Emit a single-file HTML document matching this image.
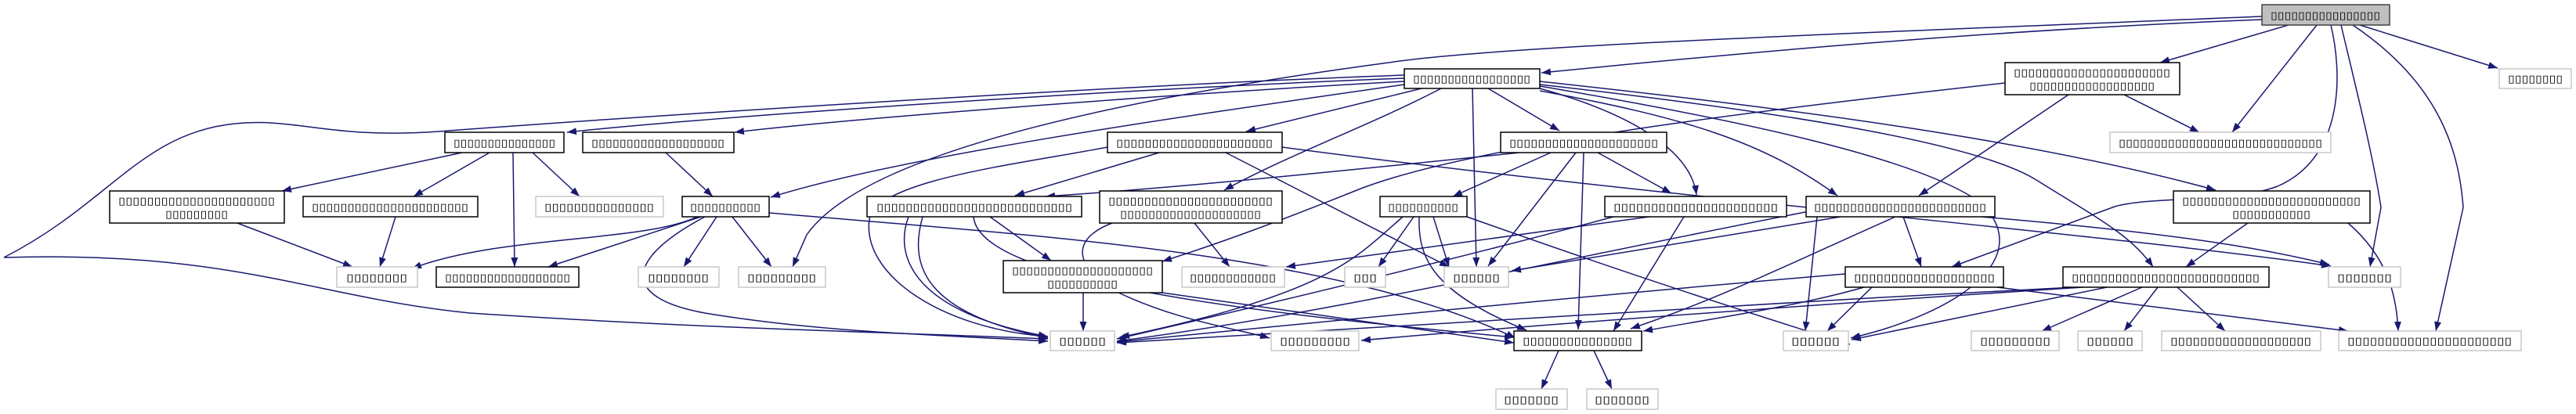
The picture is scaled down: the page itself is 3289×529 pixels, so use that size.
<!DOCTYPE html>
<html><head><meta charset="utf-8"><style>
html,body{margin:0;padding:0;background:#fff;}
svg{display:block;}
text{font-family:"DejaVu Sans","Liberation Sans",sans-serif;font-size:13px;fill:#000;}
</style></head><body>
<svg width="3289" height="529" viewBox="0 0 3289 529" xmlns="http://www.w3.org/2000/svg">
<defs>
<marker id="a" markerUnits="userSpaceOnUse" markerWidth="14" markerHeight="10" refX="12" refY="4.5" orient="auto">
<path d="M0,0 L12,4.5 L0,9 z" fill="#191970"/>
</marker>
</defs>
<g fill="none" stroke="#191970" stroke-width="1.5" marker-end="url(#a)">
<path d="M2888,25 C2500,40 2150,75 1968,93"/>
<path d="M2922,32 L2758,80"/>
<path d="M2958,32 L2850,169"/>
<path d="M2976,32 C2990,90 2995,200 2908,238 C2850,260 2750,250 2700,264 L2492,341"/>
<path d="M2989,32 C3010,120 3030,200 3040,265 L3026,341"/>
<path d="M3004,32 C3120,110 3140,200 3145,265 L3110,423"/>
<path d="M3013,32 L3189,87"/>
<path d="M2888,21 C2300,45 1900,60 1773,80 C1400,130 1100,200 1030,300 L1012,341"/>
<path d="M1793,100 C1400,115 900,150 724,169"/>
<path d="M1793,104 C1500,120 1100,150 938,169"/>
<path d="M1793,96 C1400,110 800,150 560,168 C420,178 380,150 300,158 C180,170 140,260 5,329 C300,320 400,380 600,400 C900,420 1150,425 1338,433"/>
<path d="M1815,113 L1591,168"/>
<path d="M1900,113 L1991,167"/>
<path d="M1840,113 C1750,160 1640,200 1563,243"/>
<path d="M1880,113 L1885,341"/>
<path d="M1793,108 C1500,150 1150,200 984,252"/>
<path d="M1966,113 C2100,150 2160,200 2166,249"/>
<path d="M1966,104 C2300,140 2600,180 2829,243"/>
<path d="M1966,108 C2250,140 2520,180 2600,230 C2680,280 2720,300 2749,341"/>
<path d="M1966,110 C2200,150 2450,200 2530,260 C2600,330 2500,400 2363,432"/>
<path d="M1966,116 C2150,150 2250,180 2346,250"/>
<path d="M2712,121 L2808,169"/>
<path d="M2641,121 L2450,250"/>
<path d="M2560,106 C2300,135 1900,180 1740,240 C1640,280 1560,310 1484,334"/>
<path d="M590,195 L360,244"/>
<path d="M625,195 L528,251"/>
<path d="M655,195 L657,341"/>
<path d="M680,195 L740,251"/>
<path d="M850,195 L910,251"/>
<path d="M303,285 L450,341"/>
<path d="M505,277 L485,341"/>
<path d="M890,277 C820,310 640,300 526,343"/>
<path d="M895,277 L700,341"/>
<path d="M900,277 C800,330 790,380 900,400 C1050,425 1200,428 1338,436"/>
<path d="M915,277 L873,341"/>
<path d="M935,277 L985,341"/>
<path d="M982,272 C1300,300 1700,320 1935,432"/>
<path d="M1480,195 L1296,250"/>
<path d="M1565,195 L1850,341"/>
<path d="M1414,188 C1300,210 1120,230 1110,280 C1100,350 1200,420 1338,430"/>
<path d="M1637,188 C2100,250 2700,300 2976,340"/>
<path d="M1940,195 C1700,220 1500,240 1335,251"/>
<path d="M1980,195 L1855,251"/>
<path d="M2022,195 L2015,421"/>
<path d="M2040,195 L2134,247"/>
<path d="M2012,195 L1900,340"/>
<path d="M1160,277 C1140,330 1170,400 1338,430"/>
<path d="M1178,277 C1160,340 1180,400 1338,432"/>
<path d="M1264,277 L1342,333"/>
<path d="M1243,277 C1250,360 1600,400 1933,431"/>
<path d="M1525,285 L1570,341"/>
<path d="M1420,285 C1380,300 1360,330 1420,370 C1500,410 1580,420 1621,432"/>
<path d="M1805,277 L1760,341"/>
<path d="M1830,277 L1850,341"/>
<path d="M1812,277 C1810,330 1830,374 1949,422"/>
<path d="M1791,277 C1730,330 1700,374 1430,431"/>
<path d="M1873,277 C2050,340 2200,390 2362,440"/>
<path d="M1383,374 L1383,423"/>
<path d="M1484,374 L1933,438"/>
<path d="M1990,448 L1968,497"/>
<path d="M2035,448 L2058,497"/>
<path d="M2060,277 C1900,320 1700,370 1426,433"/>
<path d="M2150,277 L2060,423"/>
<path d="M2200,264 C2000,290 1800,320 1642,341"/>
<path d="M2430,277 L2453,341"/>
<path d="M2320,277 L2305,423"/>
<path d="M2350,277 L1930,346"/>
<path d="M2420,277 C2300,330 2200,380 2082,420"/>
<path d="M2530,277 C2800,300 2900,320 2974,338"/>
<path d="M2310,270 C2000,330 1700,400 1426,436"/>
<path d="M2356,350 C2000,380 1600,420 1426,437"/>
<path d="M2380,367 C2300,390 2200,405 2098,423"/>
<path d="M2550,367 L2998,423"/>
<path d="M2390,367 L2333,423"/>
<path d="M2690,367 L2364,434"/>
<path d="M2735,367 L2607,423"/>
<path d="M2755,367 L2712,423"/>
<path d="M2780,367 L2841,423"/>
<path d="M2660,367 C2300,390 1900,420 1738,435"/>
<path d="M2648,367 C2200,390 1700,420 1426,438"/>
<path d="M2870,285 L2791,341"/>
<path d="M2998,285 C3050,330 3060,380 3062,423"/>
</g>
<g stroke-width="1.5">
<rect x="2888" y="6" width="163" height="26" fill="#bfbfbf" stroke="#404040"/>
<g fill="#fff" stroke="#000">
<rect x="1793" y="88" width="173" height="25"/>
<rect x="2560" y="80" width="223" height="41"/>
<rect x="568" y="169" width="152" height="26"/>
<rect x="744" y="169" width="193" height="26"/>
<rect x="1414" y="169" width="223" height="26"/>
<rect x="1916" y="169" width="212" height="26"/>
<rect x="140" y="244" width="223" height="41"/>
<rect x="387" y="251" width="223" height="26"/>
<rect x="871" y="251" width="111" height="26"/>
<rect x="1107" y="251" width="274" height="26"/>
<rect x="1404" y="244" width="233" height="41"/>
<rect x="1762" y="251" width="111" height="26"/>
<rect x="2049" y="251" width="232" height="26"/>
<rect x="2306" y="251" width="241" height="26"/>
<rect x="2775" y="244" width="251" height="41"/>
<rect x="557" y="341" width="182" height="26"/>
<rect x="1281" y="333" width="203" height="41"/>
<rect x="2356" y="341" width="202" height="26"/>
<rect x="2634" y="341" width="263" height="26"/>
<rect x="1933" y="423" width="163" height="25"/>
</g>
<g fill="#fff" stroke="#c8c8c8">
<rect x="3191" y="88" width="92" height="25"/>
<rect x="2694" y="169" width="282" height="26"/>
<rect x="684" y="251" width="163" height="26"/>
<rect x="430" y="341" width="103" height="26"/>
<rect x="815" y="341" width="103" height="26"/>
<rect x="943" y="341" width="111" height="26"/>
<rect x="1509" y="341" width="131" height="26"/>
<rect x="1717" y="341" width="52" height="26"/>
<rect x="1844" y="341" width="82" height="26"/>
<rect x="2973" y="341" width="92" height="26"/>
<rect x="1341" y="423" width="82" height="25"/>
<rect x="1623" y="423" width="112" height="25"/>
<rect x="2277" y="423" width="83" height="25"/>
<rect x="2517" y="423" width="112" height="25"/>
<rect x="2653" y="423" width="82" height="25"/>
<rect x="2760" y="423" width="203" height="25"/>
<rect x="2986" y="423" width="233" height="25"/>
<rect x="1910" y="497" width="91" height="26"/>
<rect x="2026" y="497" width="91" height="26"/>
</g>
</g>
<g text-anchor="middle">
<text x="2969" y="24" textLength="140" lengthAdjust="spacingAndGlyphs">▯▯▯▯▯▯▯▯▯▯▯▯▯▯▯▯</text>
<text x="1879" y="105" textLength="150" lengthAdjust="spacingAndGlyphs">▯▯▯▯▯▯▯▯▯▯▯▯▯▯▯▯▯</text>
<text x="2671" y="97" textLength="200" lengthAdjust="spacingAndGlyphs">▯▯▯▯▯▯▯▯▯▯▯▯▯▯▯▯▯▯▯▯▯▯</text>
<text x="2671" y="114" textLength="160" lengthAdjust="spacingAndGlyphs">▯▯▯▯▯▯▯▯▯▯▯▯▯▯▯▯▯▯</text>
<text x="3237" y="105" textLength="70" lengthAdjust="spacingAndGlyphs">▯▯▯▯▯▯▯▯</text>
<text x="2835" y="187" textLength="260" lengthAdjust="spacingAndGlyphs">▯▯▯▯▯▯▯▯▯▯▯▯▯▯▯▯▯▯▯▯▯▯▯▯▯▯▯▯▯</text>
<text x="644" y="187" textLength="130" lengthAdjust="spacingAndGlyphs">▯▯▯▯▯▯▯▯▯▯▯▯▯▯▯</text>
<text x="840" y="187" textLength="170" lengthAdjust="spacingAndGlyphs">▯▯▯▯▯▯▯▯▯▯▯▯▯▯▯▯▯▯▯</text>
<text x="1525" y="187" textLength="200" lengthAdjust="spacingAndGlyphs">▯▯▯▯▯▯▯▯▯▯▯▯▯▯▯▯▯▯▯▯▯▯</text>
<text x="2022" y="187" textLength="190" lengthAdjust="spacingAndGlyphs">▯▯▯▯▯▯▯▯▯▯▯▯▯▯▯▯▯▯▯▯▯</text>
<text x="251" y="261" textLength="200" lengthAdjust="spacingAndGlyphs">▯▯▯▯▯▯▯▯▯▯▯▯▯▯▯▯▯▯▯▯▯▯</text>
<text x="251" y="278" textLength="80" lengthAdjust="spacingAndGlyphs">▯▯▯▯▯▯▯▯▯</text>
<text x="498" y="269" textLength="200" lengthAdjust="spacingAndGlyphs">▯▯▯▯▯▯▯▯▯▯▯▯▯▯▯▯▯▯▯▯▯▯</text>
<text x="765" y="269" textLength="140" lengthAdjust="spacingAndGlyphs">▯▯▯▯▯▯▯▯▯▯▯▯▯▯▯</text>
<text x="926" y="269" textLength="90" lengthAdjust="spacingAndGlyphs">▯▯▯▯▯▯▯▯▯▯</text>
<text x="1244" y="269" textLength="250" lengthAdjust="spacingAndGlyphs">▯▯▯▯▯▯▯▯▯▯▯▯▯▯▯▯▯▯▯▯▯▯▯▯▯▯▯</text>
<text x="1520" y="261" textLength="210" lengthAdjust="spacingAndGlyphs">▯▯▯▯▯▯▯▯▯▯▯▯▯▯▯▯▯▯▯▯▯▯▯</text>
<text x="1520" y="278" textLength="180" lengthAdjust="spacingAndGlyphs">▯▯▯▯▯▯▯▯▯▯▯▯▯▯▯▯▯▯▯▯</text>
<text x="1817" y="269" textLength="90" lengthAdjust="spacingAndGlyphs">▯▯▯▯▯▯▯▯▯▯</text>
<text x="2165" y="269" textLength="210" lengthAdjust="spacingAndGlyphs">▯▯▯▯▯▯▯▯▯▯▯▯▯▯▯▯▯▯▯▯▯▯</text>
<text x="2426" y="269" textLength="220" lengthAdjust="spacingAndGlyphs">▯▯▯▯▯▯▯▯▯▯▯▯▯▯▯▯▯▯▯▯▯▯▯▯</text>
<text x="2900" y="261" textLength="228" lengthAdjust="spacingAndGlyphs">▯▯▯▯▯▯▯▯▯▯▯▯▯▯▯▯▯▯▯▯▯▯▯▯▯</text>
<text x="2900" y="278" textLength="100" lengthAdjust="spacingAndGlyphs">▯▯▯▯▯▯▯▯▯▯▯</text>
<text x="481" y="359" textLength="78" lengthAdjust="spacingAndGlyphs">▯▯▯▯▯▯▯▯</text>
<text x="648" y="359" textLength="160" lengthAdjust="spacingAndGlyphs">▯▯▯▯▯▯▯▯▯▯▯▯▯▯▯▯▯▯</text>
<text x="866" y="359" textLength="78" lengthAdjust="spacingAndGlyphs">▯▯▯▯▯▯▯▯</text>
<text x="998" y="359" textLength="88" lengthAdjust="spacingAndGlyphs">▯▯▯▯▯▯▯▯▯</text>
<text x="1382" y="350" textLength="180" lengthAdjust="spacingAndGlyphs">▯▯▯▯▯▯▯▯▯▯▯▯▯▯▯▯▯▯▯▯</text>
<text x="1382" y="367" textLength="90" lengthAdjust="spacingAndGlyphs">▯▯▯▯▯▯▯▯▯▯</text>
<text x="1574" y="359" textLength="110" lengthAdjust="spacingAndGlyphs">▯▯▯▯▯▯▯▯▯▯▯▯</text>
<text x="1743" y="359" textLength="30" lengthAdjust="spacingAndGlyphs">▯▯▯</text>
<text x="1885" y="359" textLength="60" lengthAdjust="spacingAndGlyphs">▯▯▯▯▯▯</text>
<text x="2457" y="359" textLength="180" lengthAdjust="spacingAndGlyphs">▯▯▯▯▯▯▯▯▯▯▯▯▯▯▯▯▯▯▯</text>
<text x="2765" y="359" textLength="240" lengthAdjust="spacingAndGlyphs">▯▯▯▯▯▯▯▯▯▯▯▯▯▯▯▯▯▯▯▯▯▯▯▯▯▯</text>
<text x="3019" y="359" textLength="70" lengthAdjust="spacingAndGlyphs">▯▯▯▯▯▯▯</text>
<text x="1382" y="440" textLength="60" lengthAdjust="spacingAndGlyphs">▯▯▯▯▯▯</text>
<text x="1679" y="440" textLength="90" lengthAdjust="spacingAndGlyphs">▯▯▯▯▯▯▯▯▯</text>
<text x="2014" y="440" textLength="140" lengthAdjust="spacingAndGlyphs">▯▯▯▯▯▯▯▯▯▯▯▯▯▯▯</text>
<text x="2318" y="440" textLength="62" lengthAdjust="spacingAndGlyphs">▯▯▯▯▯▯</text>
<text x="2573" y="440" textLength="90" lengthAdjust="spacingAndGlyphs">▯▯▯▯▯▯▯▯▯</text>
<text x="2694" y="440" textLength="60" lengthAdjust="spacingAndGlyphs">▯▯▯▯▯▯</text>
<text x="2861" y="440" textLength="180" lengthAdjust="spacingAndGlyphs">▯▯▯▯▯▯▯▯▯▯▯▯▯▯▯▯▯▯▯</text>
<text x="3102" y="440" textLength="210" lengthAdjust="spacingAndGlyphs">▯▯▯▯▯▯▯▯▯▯▯▯▯▯▯▯▯▯▯▯▯▯</text>
<text x="1955" y="515" textLength="70" lengthAdjust="spacingAndGlyphs">▯▯▯▯▯▯▯</text>
<text x="2071" y="515" textLength="70" lengthAdjust="spacingAndGlyphs">▯▯▯▯▯▯▯</text>
</g>
</svg>
</body></html>
